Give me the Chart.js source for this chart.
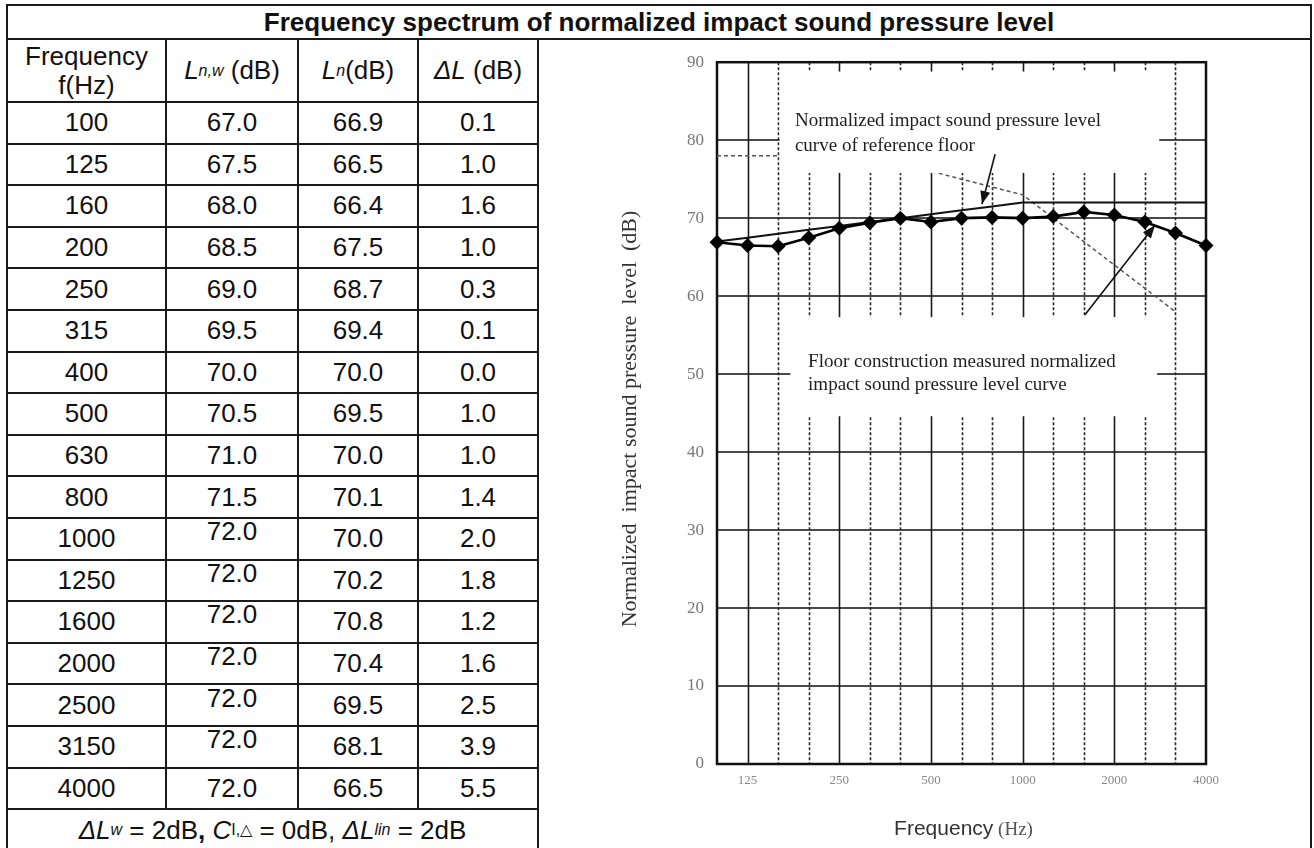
<!DOCTYPE html>
<html><head><meta charset="utf-8">
<script src="https://cdn.jsdelivr.net/npm/chart.js@4.4.1/dist/chart.umd.min.js"></script>
<style>
html,body{margin:0;padding:0;background:#fff;width:1314px;height:848px;overflow:hidden;}
.ln{position:absolute;background:#1a1a1a;z-index:5;}
.cell{position:absolute;display:flex;align-items:center;justify-content:center;font-family:"Liberation Sans",Arial,sans-serif;font-size:26px;color:#111;text-align:center;line-height:29px;z-index:4;}
.cell sub{font-size:16px;vertical-align:-5px;line-height:0;}
#title{position:absolute;left:7px;top:5px;width:1304px;height:34px;display:flex;align-items:center;justify-content:center;font-family:"Liberation Sans",Arial,sans-serif;font-weight:bold;font-size:26px;color:#111;}
#c{position:absolute;left:538px;top:39px;}
</style></head>
<body>
<div id="title">Frequency spectrum of normalized impact sound pressure level</div>
<div id="table"></div>
<canvas id="c" width="773" height="809"></canvas>
<script>
// ---- data ----
const freqs = [100,125,160,200,250,315,400,500,630,800,1000,1250,1600,2000,2500,3150,4000];
const lnw   = [67.0,67.5,68.0,68.5,69.0,69.5,70.0,70.5,71.0,71.5,72.0,72.0,72.0,72.0,72.0,72.0,72.0];
const ln    = [66.9,66.5,66.4,67.5,68.7,69.4,70.0,69.5,70.0,70.1,70.0,70.2,70.8,70.4,69.5,68.1,66.5];
const dL    = [0.1,1.0,1.6,1.0,0.3,0.1,0.0,1.0,1.0,1.4,2.0,1.8,1.2,1.6,2.5,3.9,5.5];
const refFloor = [78,78,78,78,78,78,77,76,75,74,73,70,67,64,61,58,null];
const xTickLabels = ['125','250','500','1000','2000','4000'];
const octaveLines = [125,250,500,1000,2000];
const yMin = 0, yMax = 90, yStep = 10;

// ---- table ----
const tbl = document.getElementById('table');
const colX = [7,166,298,418,538];
const headTop = 39, headBot = 102, rowH = 41.6, rightX = 1311;
const raisedRows = [10,11,12,13,14,15];
function line(x,y,w,h){const d=document.createElement('div');d.className='ln';d.style.left=x+'px';d.style.top=y+'px';d.style.width=w+'px';d.style.height=h+'px';tbl.appendChild(d);}
function cell(x0,x1,y0,y1,html,dy){const d=document.createElement('div');d.className='cell';d.style.left=x0+'px';d.style.top=(y0+(dy||0))+'px';d.style.width=(x1-x0)+'px';d.style.height=(y1-y0)+'px';d.innerHTML=html;tbl.appendChild(d);}
const footTop = headBot + rowH*freqs.length;
line(7,4,rightX-7+1,2);
line(7,38,rightX-7+1,2);
line(7,headBot-1,colX[4]-7,2);
for(let k=1;k<=freqs.length;k++) line(7,Math.round(headBot+rowH*k)-1,colX[4]-7,2);
line(6,4,2,860);
line(rightX-1,4,2,860);
for(let i=1;i<4;i++) line(colX[i]-1,headTop,2,footTop-headTop);
line(colX[4]-1,headTop,2,860);
cell(colX[0],colX[1],headTop,headBot,'Frequency<br>f(Hz)');
cell(colX[1],colX[2],headTop,headBot,'<i>L</i><sub><i>n,w</i></sub>&nbsp;(dB)');
cell(colX[2],colX[3],headTop,headBot,'<i>L</i><sub><i>n</i></sub>(dB)');
cell(colX[3],colX[4],headTop,headBot,'<i>ΔL</i>&nbsp;(dB)');
freqs.forEach((f,i)=>{
  const y0 = headBot+rowH*i, y1 = y0+rowH;
  cell(colX[0],colX[1],y0,y1,String(f));
  cell(colX[1],colX[2],y0,y1,lnw[i].toFixed(1), raisedRows.includes(i)?-7:0);
  cell(colX[2],colX[3],y0,y1,ln[i].toFixed(1));
  cell(colX[3],colX[4],y0,y1,dL[i].toFixed(1));
});
cell(colX[0],colX[4],footTop,footTop+42,'<i>ΔL</i><sub><i>w</i></sub>&nbsp;=&nbsp;2dB<b>,</b>&nbsp;<i>C</i><sub>I,△</sub>&nbsp;=&nbsp;0dB,&nbsp;<i>ΔL</i><sub><i>lin</i></sub>&nbsp;=&nbsp;2dB');

// ---- chart ----
const serif = '"Liberation Serif","Times New Roman",serif';
const sans = '"Liberation Sans",Arial,sans-serif';
function arrow(ctx,x0,y0,x1,y1){
  ctx.beginPath();ctx.moveTo(x0,y0);ctx.lineTo(x1,y1);ctx.stroke();
  const a=Math.atan2(y1-y0,x1-x0), L=13, W=5;
  ctx.beginPath();
  ctx.moveTo(x1,y1);
  ctx.lineTo(x1-L*Math.cos(a)+W*Math.sin(a), y1-L*Math.sin(a)-W*Math.cos(a));
  ctx.lineTo(x1-L*Math.cos(a)-W*Math.sin(a), y1-L*Math.sin(a)+W*Math.cos(a));
  ctx.closePath();ctx.fill();
}
const gridPlugin = {
  id:'gridPlugin',
  beforeDatasetsDraw(chart){
    const {ctx, chartArea:a, scales:{x,y}} = chart;
    ctx.save();
    ctx.strokeStyle='#4a4a4a'; ctx.lineWidth=2;
    for(let v=yMin+yStep; v<yMax; v+=yStep){
      const py=Math.round(y.getPixelForValue(v));
      ctx.beginPath();ctx.moveTo(a.left,py);ctx.lineTo(a.right,py);ctx.stroke();
    }
    freqs.forEach((f,i)=>{
      if(i===0||i===freqs.length-1) return;
      const px=Math.round(x.getPixelForValue(i))+0.5;
      if(octaveLines.includes(f)){ctx.setLineDash([]);ctx.strokeStyle='#1a1a1a';ctx.lineWidth=1.6;}
      else {ctx.setLineDash([3,2]);ctx.strokeStyle='#2a2a2a';ctx.lineWidth=1.6;}
      ctx.beginPath();ctx.moveTo(px,a.top);ctx.lineTo(px,a.bottom);ctx.stroke();
    });
    ctx.setLineDash([]);
    ctx.strokeStyle='#111';ctx.lineWidth=2.5;
    ctx.strokeRect(a.left,a.top,a.right-a.left,a.bottom-a.top);
    ctx.restore();
  },
  afterDatasetsDraw(chart){
    const {ctx, chartArea:a, scales:{x,y}} = chart;
    const X=v=>x.getPixelForValue(v), Y=v=>y.getPixelForValue(v);
    ctx.save();
    ctx.fillStyle='#fff';
    ctx.fillRect(X(2.05),Y(88.8),X(14.47)-X(2.05),Y(75.8)-Y(88.8));
    ctx.fillRect(X(2.4),Y(57.3),X(14.4)-X(2.4),Y(44.6)-Y(57.3));
    ctx.fillStyle='#1e1e1e';
    ctx.font='19px '+serif;
    ctx.textAlign='left';ctx.textBaseline='alphabetic';
    ctx.fillText('Normalized impact sound pressure level',X(2.55),Y(81.8));
    ctx.fillText('curve of reference floor',X(2.55),Y(78.6));
    ctx.fillText('Floor construction measured normalized',X(2.98),Y(50.9));
    ctx.fillText('impact sound pressure level curve',X(2.98),Y(48.0));
    ctx.strokeStyle='#111';ctx.fillStyle='#111';ctx.lineWidth=1.6;
    arrow(ctx,X(9.1),Y(78.2),X(8.67),Y(71.8));
    arrow(ctx,X(12.04),Y(57.6),X(14.33),Y(69.1));
    ctx.restore();
  },
  afterDraw(chart){
    const {ctx, chartArea:a} = chart;
    ctx.save();
    ctx.translate(92,380);ctx.rotate(-Math.PI/2);
    ctx.fillStyle='#333';ctx.font='22px '+serif;ctx.textAlign='center';ctx.textBaseline='middle';
    ctx.fillText('Normalized  impact sound pressure  level  (dB)',0,0);
    ctx.restore();
    ctx.save();
    const t1='Frequency', t2=' (Hz)';
    ctx.font='21px '+sans; const w1=ctx.measureText(t1).width;
    ctx.font='19px '+serif; const w2=ctx.measureText(t2).width;
    const cx=(a.left+a.right)/2+2, x0=cx-(w1+w2)/2, by=796;
    ctx.fillStyle='#333';ctx.textBaseline='alphabetic';ctx.textAlign='left';
    ctx.font='21px '+sans; ctx.fillText(t1,x0,by);
    ctx.fillStyle='#555';ctx.font='19px '+serif; ctx.fillText(t2,x0+w1,by);
    ctx.restore();
  }
};

new Chart(document.getElementById('c'), {
  type:'line',
  data:{
    labels: freqs.map(String),
    datasets:[
      {label:'Measured Ln', data:ln, borderColor:'#000', borderWidth:2.6, pointStyle:'rectRot', pointRadius:7.5, pointBackgroundColor:'#000', pointBorderColor:'#000', pointBorderWidth:0, tension:0, clip:false},
      {label:'Ln,w', data:lnw, borderColor:'#111', borderWidth:2, pointRadius:0, tension:0, clip:false},
      {label:'Reference floor', data:refFloor, borderColor:'#555', borderWidth:1.5, borderDash:[4,3], pointRadius:0, tension:0, spanGaps:false}
    ]
  },
  options:{
    responsive:false, animation:false, devicePixelRatio:1, events:[],
    plugins:{legend:{display:false}, tooltip:{enabled:false}, title:{display:false}},
    layout:{padding:{left:0,right:105,top:20,bottom:0}},
    scales:{
      x:{type:'category', offset:false,
         grid:{display:false, drawTicks:false}, border:{display:false},
         ticks:{autoSkip:false, maxRotation:0, minRotation:0, padding:9, color:'#888', font:{family:serif,size:13},
           callback:(v,i)=> xTickLabels.includes(String(freqs[i])) ? String(freqs[i]) : ''},
         afterFit(s){s.height=84;}},
      y:{min:yMin, max:yMax,
         grid:{display:false, drawTicks:false}, border:{display:false},
         ticks:{stepSize:yStep, padding:13, color:'#777', font:{family:serif,size:17}},
         afterFit(s){s.width=179;}}
    }
  },
  plugins:[gridPlugin]
});
</script>
</body></html>
